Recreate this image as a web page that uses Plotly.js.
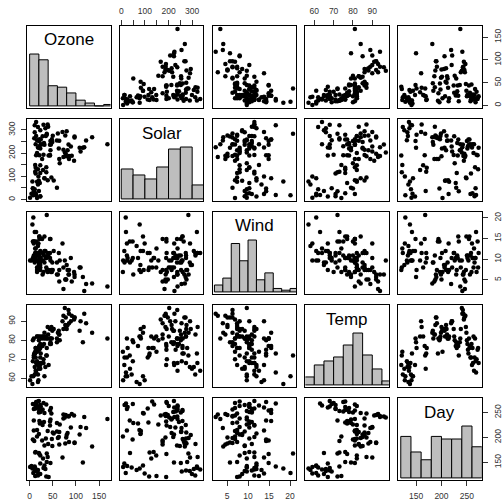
<!DOCTYPE html>
<html>
<head>
<meta charset="utf-8">
<script src="https://cdn.plot.ly/plotly-3.0.1.min.js"></script>
<style>html,body{margin:0;padding:0;background:#fff;}#chart{width:502px;height:500px;}</style>
</head>
<body>
<div id="chart"></div>
<script>
// airquality (New York, May-Sep 1973); null = missing
const ozone = [41,36,12,18,null,28,23,19,8,null,7,16,11,14,18,14,34,6,30,11,1,11,4,32,null,null,null,23,45,115,37,
  null,null,null,null,null,null,29,null,71,39,null,null,23,null,null,21,37,20,12,13,null,null,null,null,null,null,null,null,null,null,
  135,49,32,null,64,40,77,97,97,85,null,10,27,null,7,48,35,61,79,63,16,null,null,80,108,20,52,82,50,64,59,
  39,9,16,78,35,66,122,89,110,null,null,44,28,65,null,22,59,23,31,44,21,9,null,45,168,73,null,76,118,84,85,
  96,78,73,91,47,32,20,23,21,24,44,21,28,9,13,46,18,13,24,16,13,23,36,7,14,30,null,14,18,20];
const solar = [190,118,149,313,null,null,299,99,19,194,null,256,290,274,65,334,307,78,322,44,8,320,25,92,66,266,null,13,252,223,279,
  286,287,242,186,220,264,127,273,291,323,259,250,148,332,322,191,284,37,120,137,150,59,91,250,135,127,47,98,31,138,
  269,248,236,101,175,314,276,267,272,175,139,264,175,291,48,260,274,285,187,220,7,258,295,294,223,81,82,213,275,253,254,
  83,24,77,null,null,null,255,229,207,222,137,192,273,157,64,71,51,115,244,190,259,36,255,212,238,215,153,203,225,237,188,
  167,197,183,189,95,92,252,220,230,259,236,259,238,24,112,237,224,27,238,201,238,14,139,49,20,193,145,191,131,223];
const wind = [7.4,8.0,12.6,11.5,14.3,14.9,8.6,13.8,20.1,8.6,6.9,9.7,9.2,10.9,13.2,11.5,12.0,18.4,11.5,9.7,9.7,16.6,9.7,12.0,16.6,14.9,8.0,12.0,14.9,5.7,7.4,
  8.6,9.7,16.1,9.2,8.6,14.3,9.7,6.9,13.8,11.5,10.9,9.2,8.0,13.8,11.5,14.9,20.7,9.2,11.5,10.3,6.3,1.7,4.6,6.3,8.0,8.0,10.3,11.5,14.9,8.0,
  4.1,9.2,9.2,10.9,4.6,10.9,5.1,6.3,5.7,7.4,8.6,14.3,14.9,14.9,14.3,6.9,10.3,6.3,5.1,11.5,6.9,9.7,11.5,8.6,8.0,8.6,12.0,7.4,7.4,7.4,9.2,
  6.9,13.8,7.4,6.9,7.4,4.6,4.0,10.3,8.0,8.6,11.5,11.5,11.5,9.7,11.5,10.3,6.3,7.4,10.9,10.3,15.5,14.3,12.6,9.7,3.4,8.0,5.7,9.7,2.3,6.3,6.3,
  6.9,5.1,2.8,4.6,7.4,15.5,10.9,10.3,10.9,9.7,14.9,15.5,6.3,10.9,11.5,6.9,13.8,10.3,10.3,8.0,12.6,9.2,10.3,10.3,16.6,6.9,13.2,14.3,8.0,11.5];
const temp = [67,72,74,62,56,66,65,59,61,69,74,69,66,68,58,64,66,57,68,62,59,73,61,61,57,58,57,67,81,79,76,
  78,74,67,84,85,79,82,87,90,87,93,92,82,80,79,77,72,65,73,76,77,76,76,76,75,78,73,80,77,83,
  84,85,81,84,83,83,88,92,92,89,82,73,81,91,80,81,82,84,87,85,74,81,82,86,85,82,86,88,86,83,81,
  81,81,82,86,85,87,89,90,90,92,86,86,82,80,79,77,79,76,78,78,77,72,75,79,81,86,88,97,94,96,94,
  91,92,93,93,87,84,80,78,75,73,81,76,77,71,71,78,67,76,68,82,64,71,81,69,63,70,77,75,76,68];
// day of year (May 1 .. Sep 30)
const day = [121,122,123,124,125,126,127,128,129,130,131,132,133,134,135,136,137,138,139,140,141,142,143,144,145,146,147,148,149,150,151,
  152,153,154,155,156,157,158,159,160,161,162,163,164,165,166,167,168,169,170,171,172,173,174,175,176,177,178,179,180,181,
  182,183,184,185,186,187,188,189,190,191,192,193,194,195,196,197,198,199,200,201,202,203,204,205,206,207,208,209,210,211,212,
  213,214,215,216,217,218,219,220,221,222,223,224,225,226,227,228,229,230,231,232,233,234,235,236,237,238,239,240,241,242,243,
  244,245,246,247,248,249,250,251,252,253,254,255,256,257,258,259,260,261,262,263,264,265,266,267,268,269,270,271,272,273];

const varNames = ["Ozone","Solar","Wind","Temp","Day"];
const histBreaks = [
  [0,20,40,60,80,100,120,140,160,180],
  [0,50,100,150,200,250,300,350],
  [2,4,6,8,10,12,14,16,18,20,22],
  [55,60,65,70,75,80,85,90,95,100],
  [120,140,160,180,200,220,240,260,280]
];
const tickVals = [
  [0,50,100,150],
  [0,50,100,150,200,250,300],
  [5,10,15,20],
  [60,70,80,90],
  [150,200,250]
];
const tickText = [
  ["0","50","100","150"],
  ["0","","100","","200","","300"],
  ["5","10","15","20"],
  ["60","70","80","90"],
  ["150","200","250"]
];

// complete cases
const raw = [ozone, solar, wind, temp, day];
const keep = ozone.map((v,i)=> v!==null && solar[i]!==null);
const cols = raw.map(a => a.filter((v,i)=>keep[i]));

function histCounts(vals, br){
  const c = new Array(br.length-1).fill(0);
  vals.forEach(v=>{
    for(let b=0;b<br.length-1;b++){
      if((v>br[b] || (b===0 && v===br[0])) && v<=br[b+1]){ c[b]++; break; }
    }
  });
  return c;
}
function rng(a){
  const mn = Math.min(...a), mx = Math.max(...a), d = (mx-mn)*0.04;
  return [mn-d, mx+d];
}
const ranges = cols.map(rng);

const W = 502, H = 500;
const left0 = 27, stepX = 92.8, pw = 83.5;
const top0 = 26, stepY = 93, ph = 82;
const font = {family:"Liberation Sans, Arial, sans-serif"};
const tickFont = {family:"Liberation Sans, Arial, sans-serif", size:8.5, color:"#333"};

const traces = [];
const layout = {
  width: W, height: H, margin:{l:0,r:0,t:0,b:0},
  paper_bgcolor:"#fff", plot_bgcolor:"#fff", showlegend:false,
  annotations: []
};

function baseAxis(){
  return {showline:true, mirror:true, linecolor:"#000", linewidth:1,
    zeroline:false, showgrid:false, ticks:"", showticklabels:false, fixedrange:true};
}

for(let i=0;i<5;i++){
  for(let j=0;j<5;j++){
    const k = i*5+j+1;
    const xa = baseAxis(), ya = baseAxis();
    const x0 = (left0+stepX*j)/W, x1 = (left0+stepX*j+pw)/W;
    const yt = top0+stepY*i;
    xa.domain = [x0,x1]; ya.domain = [1-(yt+ph)/H, 1-yt/H];
    xa.anchor = "y"+k; ya.anchor = "x"+k;
    xa.range = ranges[j].slice();
    ya.range = (i===j) ? [-0.04,1.54] : ranges[i].slice();
    // axes like R pairs
    if(i===0 && (j%2===1)){
      Object.assign(xa,{side:"top", ticks:"outside", ticklen:5, tickcolor:"#333", showticklabels:true,
        tickmode:"array", tickvals:tickVals[j], ticktext:tickText[j], tickfont:tickFont, ticklabelstandoff:3});
    }
    if(i===4 && (j%2===0)){
      Object.assign(xa,{side:"bottom", ticks:"outside", ticklen:5, tickcolor:"#333", showticklabels:true,
        tickmode:"array", tickvals:tickVals[j], ticktext:tickText[j], tickfont:tickFont, ticklabelstandoff:3});
    }
    if(j===0 && (i%2===1)){
      Object.assign(ya,{side:"left", ticks:"outside", ticklen:5, tickcolor:"#333", showticklabels:true,
        tickmode:"array", tickvals:tickVals[i], ticktext:tickText[i], tickfont:tickFont, tickangle:-90, ticklabelstandoff:3});
    }
    if(j===4 && (i%2===0) && i!==4){
      Object.assign(ya,{side:"right", ticks:"outside", ticklen:5, tickcolor:"#333", showticklabels:true,
        tickmode:"array", tickvals:tickVals[i], ticktext:tickText[i], tickfont:tickFont, tickangle:-90, ticklabelstandoff:3});
    }
    layout["xaxis"+k] = xa; layout["yaxis"+k] = ya;

    if(i===j){
      const br = histBreaks[i];
      const cnt = histCounts(cols[i], br);
      const mx = Math.max(...cnt);
      traces.push({type:"bar", xaxis:"x"+k, yaxis:"y"+k,
        x: cnt.map((c,b)=>(br[b]+br[b+1])/2),
        y: cnt.map(c=>c/mx),
        width: cnt.map((c,b)=>br[b+1]-br[b]),
        marker:{color:"#bebebe", line:{color:"#000", width:1}},
        hoverinfo:"skip"});
      layout.annotations.push({xref:"paper", yref:"paper",
        x:(x0+x1)/2, y:1-(yt+14)/H, xanchor:"center", yanchor:"middle",
        text:varNames[i], showarrow:false, font:Object.assign({size:17,color:"#000"},font)});
    } else {
      traces.push({type:"scatter", mode:"markers", xaxis:"x"+k, yaxis:"y"+k,
        x: cols[j], y: cols[i],
        marker:{color:"#000", size:4.5, line:{width:0}}, hoverinfo:"skip"});
    }
  }
}
// right-hand Day axis on the Day histogram panel
layout.yaxis26 = {overlaying:"y25", anchor:"x25", side:"right", range:ranges[4].slice(),
  showline:false, zeroline:false, showgrid:false, ticks:"outside", ticklen:5, tickcolor:"#333",
  tickmode:"array", tickvals:tickVals[4], ticktext:tickText[4], tickfont:tickFont, tickangle:-90,
  ticklabelstandoff:3, fixedrange:true};
traces.push({type:"scatter", mode:"markers", xaxis:"x25", yaxis:"y26", x:[], y:[], hoverinfo:"skip"});

Plotly.newPlot("chart", traces, layout, {staticPlot:true, displayModeBar:false});
</script>
</body>
</html>
